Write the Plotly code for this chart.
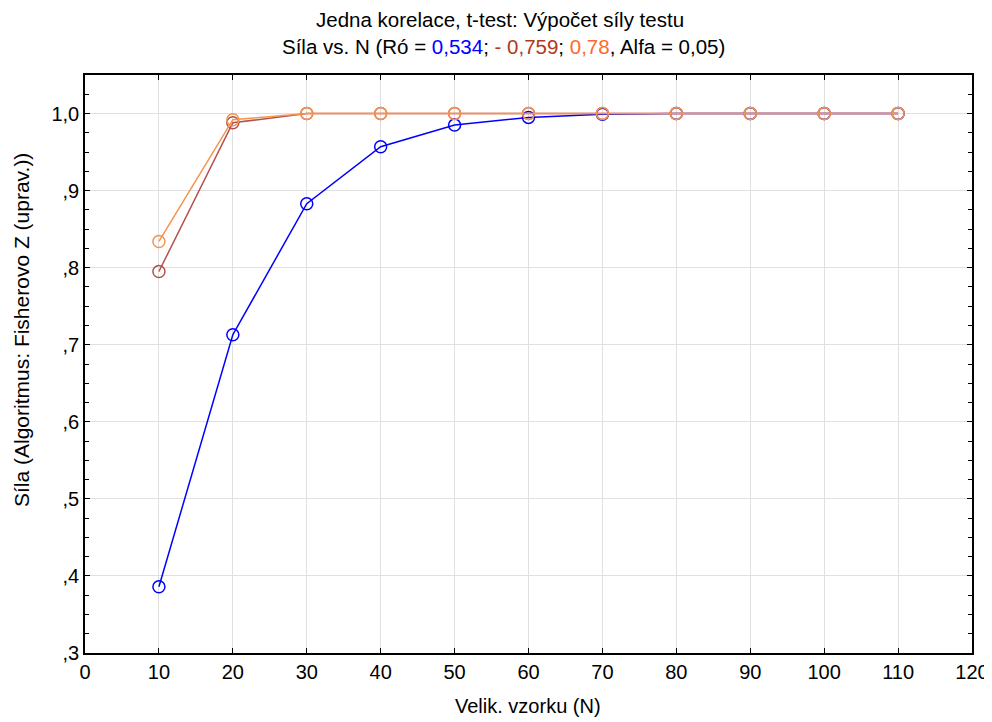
import plotly.graph_objects as go

N = [10, 20, 30, 40, 50, 60, 70, 80, 90, 100, 110]
sila_0534 = [0.386, 0.713, 0.883, 0.957, 0.985, 0.995, 0.999, 1.0, 1.0, 1.0, 1.0]
sila_m0759 = [0.795, 0.988, 1.0, 1.0, 1.0, 1.0, 1.0, 1.0, 1.0, 1.0, 1.0]
sila_078 = [0.834, 0.992, 1.0, 1.0, 1.0, 1.0, 1.0, 1.0, 1.0, 1.0, 1.0]

y_ticks = [0.3, 0.4, 0.5, 0.6, 0.7, 0.8, 0.9, 1.0]
y_labels = [",3", ",4", ",5", ",6", ",7", ",8", ",9", "1,0"]
x_ticks = list(range(0, 121, 10))

series = [
    ("0,534", sila_0534, "#0000FF"),
    ("- 0,759", sila_m0759, "#B5504C"),
    ("0,78", sila_078, "#F5944A"),
]

FONT = "Liberation Sans, Arial, sans-serif"

fig = go.Figure()
for name, ys, col in series:
    fig.add_trace(go.Scatter(
        x=N, y=ys, mode="lines+markers", name=name,
        line=dict(color=col, width=1.5),
        marker=dict(symbol="circle-open", size=12, color=col, line=dict(width=1.5, color=col)),
    ))

# page body has an 8px margin; figure coords are offset by OFF
OFF = 8
W, H = 992 - OFF, 722 - OFF
L, T = 85 - OFF, 75 - OFF
R = W - (972 - OFF)
B = H - (653 - OFF)
pw, ph = W - L - R, H - T - B

def px_x(x):
    return (x - OFF - L) / pw

def px_y(y):
    return (H - B - (y - OFF)) / ph

line1 = "Jedna korelace, t-test: Výpočet síly testu"
line2 = ("Síla vs. N (Ró = <span style='color:#0000FF'>0,534</span>; "
         "<span style='color:#B03A1A'>- 0,759</span>; "
         "<span style='color:#FF6A2A'>0,78</span>, Alfa = 0,05)")

annotations = [
    dict(text=line1, x=px_x(500), y=px_y(20), xref="paper", yref="paper",
         xanchor="center", yanchor="middle", showarrow=False, font=dict(size=20.5, family=FONT)),
    dict(text=line2, x=px_x(503), y=px_y(46), xref="paper", yref="paper",
         xanchor="center", yanchor="middle", showarrow=False, font=dict(size=20.5, family=FONT)),
    dict(text="Velik. vzorku (N)", x=px_x(528), y=px_y(706), xref="paper", yref="paper",
         xanchor="center", yanchor="middle", showarrow=False, font=dict(size=20, family=FONT)),
    dict(text="Síla (Algoritmus: Fisherovo Z (uprav.))", x=px_x(21), y=px_y(330),
         xref="paper", yref="paper", xanchor="center", yanchor="middle", textangle=-90,
         showarrow=False, font=dict(size=21, family=FONT)),
]

fig.update_layout(
    width=W, height=H,
    margin=dict(l=L, r=R, t=T, b=B, autoexpand=False),
    paper_bgcolor="white", plot_bgcolor="white",
    showlegend=False,
    font=dict(family=FONT, size=20, color="black"),
    annotations=annotations,
    xaxis=dict(
        range=[0, 120], tickvals=x_ticks, ticktext=[str(v) for v in x_ticks],
        showgrid=True, gridcolor="#E0E0E0", gridwidth=1,
        showline=True, linecolor="black", linewidth=1.5, mirror="ticks",
        ticks="inside", ticklen=5, tickcolor="black",
        zeroline=False, automargin=False,
        tickfont=dict(size=20),
    ),
    yaxis=dict(
        range=[0.3, 1.05], tickvals=y_ticks, ticktext=y_labels,
        showgrid=True, gridcolor="#E0E0E0", gridwidth=1,
        showline=True, linecolor="black", linewidth=1.5, mirror="ticks",
        ticks="inside", ticklen=5, tickcolor="black",
        zeroline=False, automargin=False,
        minor=dict(dtick=0.025, tick0=0.3, ticks="inside", ticklen=4, tickcolor="black", showgrid=False),
        tickfont=dict(size=20),
    ),
)

fig.write_html("out.html")
